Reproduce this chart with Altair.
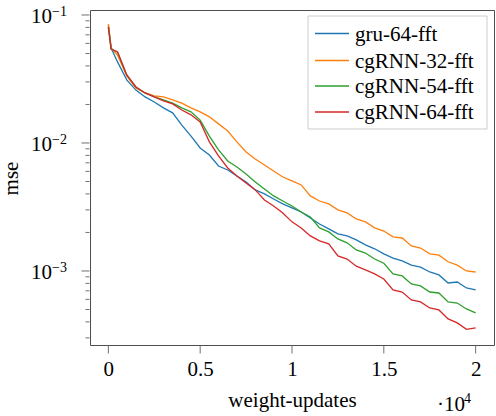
import altair as alt
import pandas as pd

# Training steps (weight updates) at which the loss was logged
updates = [0, 150] + [500 * k for k in range(1, 41)]

series_names = ["gru-64-fft", "cgRNN-32-fft", "cgRNN-54-fft", "cgRNN-64-fft"]
series_colors = ["#1f77b4", "#ff7f0e", "#2ca02c", "#d62728"]

gru_64 = [0.0835, 0.0552, 0.0430, 0.0311, 0.0259, 0.0229, 0.0209, 0.0188, 0.0172,
          0.0138, 0.0113, 0.00914, 0.00806, 0.00661, 0.00615, 0.00552, 0.00496,
          0.00430, 0.00400, 0.00365, 0.00334, 0.00311, 0.00289, 0.00259, 0.00233,
          0.00213, 0.00195, 0.00188, 0.00175, 0.00160, 0.00149, 0.00136, 0.00126,
          0.00120, 0.00111, 0.00107, 0.000982, 0.000931, 0.000806, 0.000820,
          0.000736, 0.000711]
cgrnn_32 = [0.0851, 0.0552, 0.0487, 0.0334, 0.0269, 0.0246, 0.0233, 0.0229, 0.0217,
            0.0205, 0.0188, 0.0175, 0.0160, 0.0141, 0.0124, 0.0102, 0.00851,
            0.00750, 0.00673, 0.00604, 0.00542, 0.00505, 0.00470, 0.00386, 0.00352,
            0.00334, 0.00300, 0.00284, 0.00255, 0.00242, 0.00217, 0.00205, 0.00185,
            0.00181, 0.00157, 0.00151, 0.00136, 0.00133, 0.00118, 0.00111, 0.00100,
            0.000982]
cgrnn_54 = [0.0806, 0.0542, 0.0514, 0.0340, 0.0274, 0.0246, 0.0229, 0.0217, 0.0205,
            0.0188, 0.0175, 0.0151, 0.0113, 0.00882, 0.00723, 0.00649, 0.00573,
            0.00496, 0.00437, 0.00386, 0.00352, 0.00322, 0.00289, 0.00264, 0.00217,
            0.00202, 0.00178, 0.00166, 0.00146, 0.00138, 0.00124, 0.00115, 0.000948,
            0.000914, 0.000792, 0.000764, 0.000685, 0.000673, 0.000573, 0.000562,
            0.000505, 0.000470]
cgrnn_64 = [0.0806, 0.0542, 0.0514, 0.0340, 0.0274, 0.0246, 0.0229, 0.0213, 0.0202,
            0.0181, 0.0166, 0.0146, 0.0102, 0.00792, 0.00638, 0.00552, 0.00487,
            0.00430, 0.00359, 0.00322, 0.00284, 0.00242, 0.00217, 0.00188, 0.00172,
            0.00163, 0.00131, 0.00124, 0.00109, 0.00102, 0.000948, 0.000866, 0.000711,
            0.000685, 0.000594, 0.000573, 0.000514, 0.000496, 0.000422, 0.000393,
            0.000350, 0.000359]

x_ticks = [0, 5000, 10000, 15000, 20000]
y_major = [1e-3, 1e-2, 1e-1]
y_major_exp = ["−3", "−2", "−1"]
y_minor = [m * d for d in (1e-4, 1e-3, 1e-2) for m in range(2, 10) if 2.6e-4 < m * d < 0.11]

FONT = "Liberation Serif"
TICK_COLOR = "#707070"
PLOT_H = 335

rows = []
for name, vals in zip(series_names, [gru_64, cgrnn_32, cgrnn_54, cgrnn_64]):
    for order, (u, v) in enumerate(zip(updates, vals)):
        rows.append({"series": name, "updates": u, "mse": v, "order": order})
df = pd.DataFrame(rows)

major_df = pd.DataFrame({"mse": y_major, "base": ["10"] * 3, "exp": y_major_exp})
minor_df = pd.DataFrame({"mse": y_minor})
xtick_df = pd.DataFrame({"updates": x_ticks})

x_scale = alt.Scale(domain=[-1000, 21000], nice=False, zero=False)
y_scale = alt.Scale(type="log", domain=[2.64e-4, 0.1094], nice=False)

lines = alt.Chart(df).mark_line(strokeWidth=1.3, clip=True).encode(
    x=alt.X(
        "updates:Q",
        scale=x_scale,
        axis=alt.Axis(
            values=x_ticks,
            labelExpr="format(datum.value / 10000, '~g')",
            title="weight-updates",
            titleY=61,
            titleBaseline="alphabetic",
            ticks=False,
            labelPadding=13,
            grid=False,
            domain=False,
        ),
    ),
    y=alt.Y(
        "mse:Q",
        scale=y_scale,
        axis=alt.Axis(
            values=y_major,
            labels=False,
            title="mse",
            titleX=-73,
            titleY=168,
            titleBaseline="alphabetic",
            ticks=False,
            grid=False,
            domain=False,
        ),
    ),
    color=alt.Color(
        "series:N",
        scale=alt.Scale(domain=series_names, range=series_colors),
        legend=None,
    ),
    order="order:Q",
)

# short tick strokes outside the frame
y_major_ticks = alt.Chart(major_df).mark_rule(
    color=TICK_COLOR, strokeWidth=1, opacity=1
).encode(y=alt.Y("mse:Q", scale=y_scale), x=alt.value(-8.5), x2=alt.value(-0.5))
y_minor_ticks = alt.Chart(minor_df).mark_rule(
    color=TICK_COLOR, strokeWidth=1, opacity=1
).encode(y=alt.Y("mse:Q", scale=y_scale), x=alt.value(-4.5), x2=alt.value(-0.5))
x_major_ticks = alt.Chart(xtick_df).mark_rule(
    color=TICK_COLOR, strokeWidth=1, opacity=1
).encode(x=alt.X("updates:Q", scale=x_scale), y=alt.value(PLOT_H + 0.5), y2=alt.value(PLOT_H + 8.5))

# y tick labels as 10 with a raised exponent
tick_base = alt.Chart(major_df).mark_text(
    font=FONT, fontSize=21, align="right", baseline="alphabetic", dy=8
).encode(y=alt.Y("mse:Q", scale=y_scale), x=alt.value(-38), text="base:N")
tick_exp = alt.Chart(major_df).mark_text(
    font=FONT, fontSize=14, align="left", baseline="alphabetic", dy=1
).encode(y=alt.Y("mse:Q", scale=y_scale), x=alt.value(-38), text="exp:N")

# multiplier written beneath the x axis
multiplier_base = alt.Chart(pd.DataFrame({"t": ["·10"]})).mark_text(
    font=FONT, fontSize=21, align="left", baseline="alphabetic"
).encode(text="t:N", x=alt.value(347), y=alt.value(401))
multiplier_exp = alt.Chart(pd.DataFrame({"t": ["4"]})).mark_text(
    font=FONT, fontSize=14, align="left", baseline="alphabetic"
).encode(text="t:N", x=alt.value(374), y=alt.value(393))

# legend box in the upper right corner
legend_box = alt.Chart(pd.DataFrame({"k": [0]})).mark_rect(
    fill="white", stroke="#cccccc", strokeWidth=1
).encode(x=alt.value(218), x2=alt.value(397), y=alt.value(6), y2=alt.value(119))

legend_rows = [23.5, 50.5, 76.0, 102.0]
legend_layers = []
for name, color, ry in zip(series_names, series_colors, legend_rows):
    entry = pd.DataFrame({"series": [name]})
    legend_layers.append(
        alt.Chart(entry).mark_rule(color=color, strokeWidth=1.5).encode(
            x=alt.value(225), x2=alt.value(259), y=alt.value(ry)
        )
    )
    legend_layers.append(
        alt.Chart(entry).mark_text(
            font=FONT, fontSize=21, align="left", baseline="middle", dy=1
        ).encode(text="series:N", x=alt.value(265), y=alt.value(ry))
    )

chart = (
    alt.layer(
        lines,
        tick_base,
        tick_exp,
        multiplier_base,
        multiplier_exp,
        legend_box,
        *legend_layers,
        y_major_ticks,
        y_minor_ticks,
        x_major_ticks,
    )
    .properties(
        width=404,
        height=PLOT_H,
        padding={"left": 90, "top": 10, "right": 2, "bottom": 71},
        autosize="none",
    )
    .configure_view(stroke="#4d4d4d", strokeWidth=1)
    .configure_axis(
        labelFont=FONT,
        titleFont=FONT,
        labelFontSize=21,
        titleFontSize=21,
        titleFontWeight="normal",
        labelColor="black",
        titleColor="black",
    )
)

chart.save("out.html", embed_options={"renderer": "svg", "actions": False})
